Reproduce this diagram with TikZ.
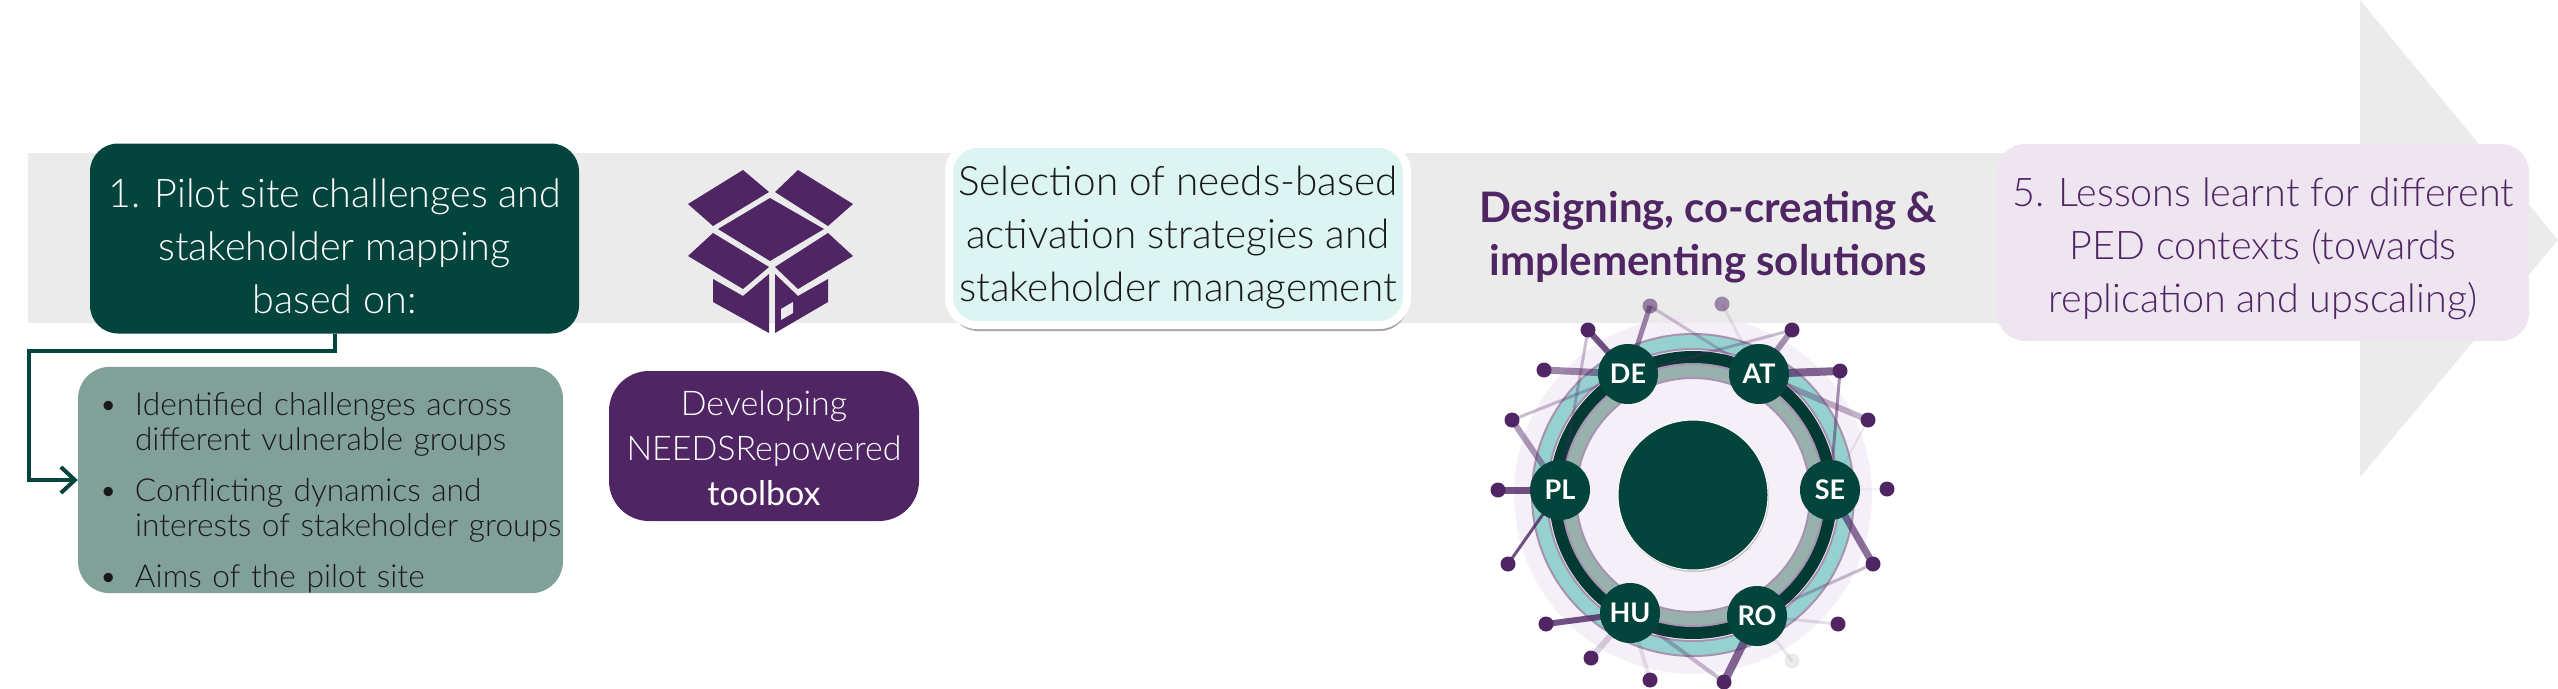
\documentclass[tikz,border=0pt]{standalone}
\usepackage{fontspec}
\setmainfont{Lato Light}
\newfontfamily\boldfont{Lato Bold}
\newfontfamily\midfont{Lato}
\usetikzlibrary{arrows.meta,backgrounds,shadows}
\definecolor{pinegreen}{HTML}{03453D}
\definecolor{sagegreen}{HTML}{82A09A}
\definecolor{plum}{HTML}{4F2564}
\definecolor{paleplum}{HTML}{EFE5F1}
\definecolor{palemint}{HTML}{DCF5F2}
\definecolor{bandgrey}{HTML}{EBEBEB}
\definecolor{ringteal}{HTML}{95D2CF}
\definecolor{ringsage}{HTML}{98B1AD}
\definecolor{ringdark}{HTML}{013A33}
\newcommand{\topgap}[1]{\rule{0pt}{#1}}
\newcommand{\bulletitem}[1]{\par\noindent\hbox to 57pt{\hspace{21pt}\textbullet\hfill}\parbox[t]{428pt}{\raggedright #1}\par}
\tikzset{
  roundbox/.style={rounded corners=28pt,align=center,inner sep=0pt,minimum width=#1},
  country/.style={circle,fill=pinegreen,minimum size=60pt,inner sep=0pt,text=white,font=\boldfont\fontsize{27}{30}\selectfont},
  dot/.style={circle,fill=plum,minimum size=15pt,inner sep=0pt},
  ringline/.style={draw=plum!50,line width=2pt},
  link/.style={draw=pinegreen,line width=4pt,-{Straight Barb[length=14pt,width=26pt]}}
}
\begin{document}
\begin{tikzpicture}[x=1pt,y=-1pt]
\useasboundingbox (0,0) rectangle (2558,688);
% boxes
\node[roundbox=489pt,minimum height=190pt,fill=pinegreen,text=white,font=\fontsize{39.5}{53}\selectfont] (pilot) at (334.5,238.5)
  {\topgap{45pt}1. Pilot site challenges and\\stakeholder mapping\\based on:};
\node[roundbox=485pt,rounded corners=32pt,minimum height=226pt,fill=sagegreen,text=black!90,font=\fontsize{31.7}{35}\selectfont,text width=485pt,align=left] (groups) at (320.5,480)
  {\setlength{\parskip}{21pt}\vskip-7pt
  \bulletitem{Identified challenges across\\different vulnerable groups}
  \bulletitem{Conflicting dynamics and\\interests of stakeholder groups}
  \bulletitem{Aims of the pilot site}};
\node[roundbox=310pt,rounded corners=40pt,minimum height=150pt,fill=plum,text=white,font=\fontsize{34}{45}\selectfont] (toolbox) at (764,446)
  {\topgap{29pt}Developing\\NEEDSRepowered\\{\midfont toolbox}};
\node[roundbox=458pt,minimum height=181pt,fill=palemint,draw=white,line width=8pt,text=black!90,font=\fontsize{40.5}{53}\selectfont,drop shadow={shadow xshift=1pt,shadow yshift=-6pt,opacity=.7}] (select) at (1178,234.5)
  {\topgap{36pt}Selection of needs-based\\activation strategies and\\stakeholder management};
\node[align=center,text=plum,font=\boldfont\fontsize{42}{53}\selectfont] (design) at (1708,237)
  {Designing, co-creating \&\\implementing solutions};
\node[roundbox=532pt,minimum height=197pt,fill=paleplum,text=plum,font=\fontsize{39.5}{53}\selectfont] (lessons) at (2263,242.5)
  {\topgap{41pt}5. Lessons learnt for different\\PED contexts (towards\\replication and upscaling)};
% countries
\foreach \name/\x/\y in {DE/1628/374,AT/1759/374,SE/1830/490,RO/1757/616,HU/1630/613,PL/1560/490}
  \node[country] (\name) at (\x,\y) {\name};
% outer dots
\foreach \name/\x/\y/\op in {a/1650/306/.55,b/1722/304/.5,c/1792/330/1,d/1840/371/1,e/1868/420/1,f/1887/489/1,
    g/1873/564/1,h/1838/624/1,i/1792/661/.1,j/1724/682/1,k/1650/680/1,l/1591/658/1,
    m/1546/624/1,n/1508/564/1,o/1498/490/1,p/1512/420/1,q/1544/370/1,r/1588/330/1}
  \node[dot,opacity=\op] (\name) at (\x,\y) {};
\begin{scope}[on background layer]
% long arrow
\fill[bandgrey] (28,153) -- (2360,153) -- (2360,0) -- (2558,240) -- (2360,477) -- (2360,323) -- (28,323) -- cycle;
% toolbox icon
\fill[plum] (743,170) -- (769,192) -- (713,226) -- (688,204) -- cycle;
\fill[plum] (798,170) -- (853,204) -- (828,226) -- (775,192) -- cycle;
\fill[plum] (770,198) -- (824,229) -- (770,261) -- (718,229) -- cycle;
\fill[plum] (713,233) -- (769,267) -- (743,289) -- (688,256) -- cycle;
\fill[plum] (828,233) -- (853,256) -- (798,289) -- (775,267) -- cycle;
\fill[plum] (713,279) -- (743,296) -- (769,274) -- (769,333) -- (713,302) -- cycle;
\fill[plum] (828,279) -- (828,302) -- (775,333) -- (775,274) -- (798,296) -- cycle;
\fill[bandgrey] (793,302) -- (793,313) -- (781,320) -- (781,309) -- cycle;
% rings
\coordinate (hub) at (1693,495);
\fill[paleplum,opacity=.6] (hub) circle (179);
\filldraw[ringline,fill=ringteal] (hub) circle (161);
\filldraw[ringline,fill=paleplum!60] (hub) circle (146);
\fill[ringdark] (hub) circle (144);
\filldraw[ringline,fill=ringsage] (hub) circle (131);
\filldraw[ringline,fill=paleplum!60] (hub) circle (117);
\fill[pinegreen,draw=white,line width=1pt,drop shadow={shadow xshift=1pt,shadow yshift=-2pt,opacity=.4}] (hub) circle (75);
% spokes
\foreach \from/\to/\wd/\op in {r/DE/6/.8,q/DE/7/.55,p/DE/3/.3,a/DE/5/.55,a/AT/3/.25,b/AT/3/.1,c/AT/6/.5,c/DE/3/.3,
    d/AT/8/.7,d/SE/3/.5,e/AT/6/.35,e/SE/2/.1,f/SE/2/.05,g/SE/7/.65,g/RO/3/.3,h/RO/3/.15,
    i/RO/3/.1,j/RO/8/.7,j/HU/4/.3,k/HU/4/.12,l/HU/6/.2,m/HU/6/.8,n/PL/3/.8,o/PL/7/.8,p/PL/6/.45,r/PL/3/.3}
  \draw[plum,line width=\wd,draw opacity=\op] (\from.center) -- (\to.center);
\end{scope}
% connector
\coordinate (turn) at (29,351);
\draw[link] (pilot.south) |- (turn) |- (groups.west);
\end{tikzpicture}
\end{document}
